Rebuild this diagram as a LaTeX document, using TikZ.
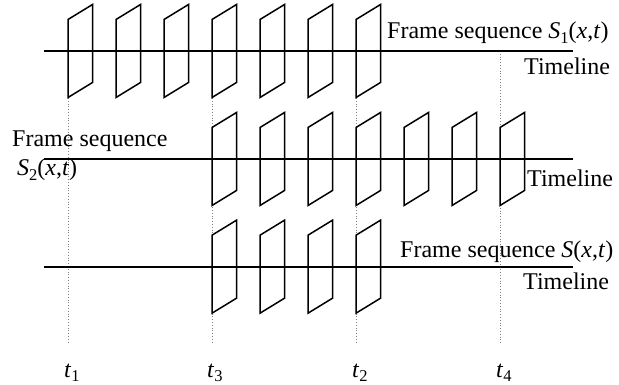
\documentclass[tikz,border=0pt]{standalone}
\usepackage{fontspec}
\setmainfont{Liberation Serif}
\newcommand\sbs[1]{\raisebox{-0.2em}{\fontsize{16.5}{16.5}\selectfont #1}}
\begin{document}
\begin{tikzpicture}[x=1pt,y=-1pt,
  frm/.style={line width=1.5pt, line join=miter},
  tline/.style={line width=1.6pt},
  guide/.style={gray, dotted, line width=0.8pt},
  lbl/.style={font=\fontsize{24}{28}\selectfont, inner sep=0pt, anchor=base west}]
\useasboundingbox (0,0) rectangle (619,385);
% guide lines
\foreach \n/\x/\ya in {1/68/98, 3/212.7/98, 2/356.7/98, 4/500.7/51}{
  \coordinate (g\n a) at (\x,\ya);
  \coordinate (g\n b) at (\x,343);
  \draw[guide] (g\n a) -- (g\n b);
}
% timelines
\foreach \r/\y in {1/51, 2/159, 3/266.7}{
  \coordinate (L\r a) at (44,\y);
  \coordinate (L\r b) at (573,\y);
  \draw[tline] (L\r a) -- (L\r b);
}
% frames
\foreach \r/\y/\ks/\ke in {1/51/0/6, 2/159/3/9, 3/266.7/3/6}{
  \foreach \k in {\ks,...,\ke}{
    \pgfmathsetmacro\xx{68+48*\k}
    \draw[frm] (\xx,\y+7.5-39) -- (\xx,\y+7.5+39) -- (\xx+24.5,\y-7.5+39) -- (\xx+24.5,\y-7.5-39) -- cycle;
  }
}
% labels
\node[lbl] (fs1) at (387,39) {Frame sequence \textit{S}\sbs{1}(\textit{x},\textit{t})};
\node[lbl] (tl1) at (524,75) {Timeline};
\node[lbl] (fs2a) at (12,147) {Frame sequence};
\node[lbl] (fs2b) at (17,176) {\textit{S}\sbs{2}(\textit{x},\textit{t})};
\node[lbl] (tl2) at (527,187) {Timeline};
\node[lbl] (fs3) at (400,257) {Frame sequence \textit{S}(\textit{x},\textit{t})};
\node[lbl] (tl3) at (523,289) {Timeline};
\node[lbl] (t1) at (64,377) {\textit{t}\sbs{1}};
\node[lbl] (t3) at (207,377) {\textit{t}\sbs{3}};
\node[lbl] (t2) at (352,377) {\textit{t}\sbs{2}};
\node[lbl] (t4) at (496,377) {\textit{t}\sbs{4}};
\end{tikzpicture}
\end{document}
